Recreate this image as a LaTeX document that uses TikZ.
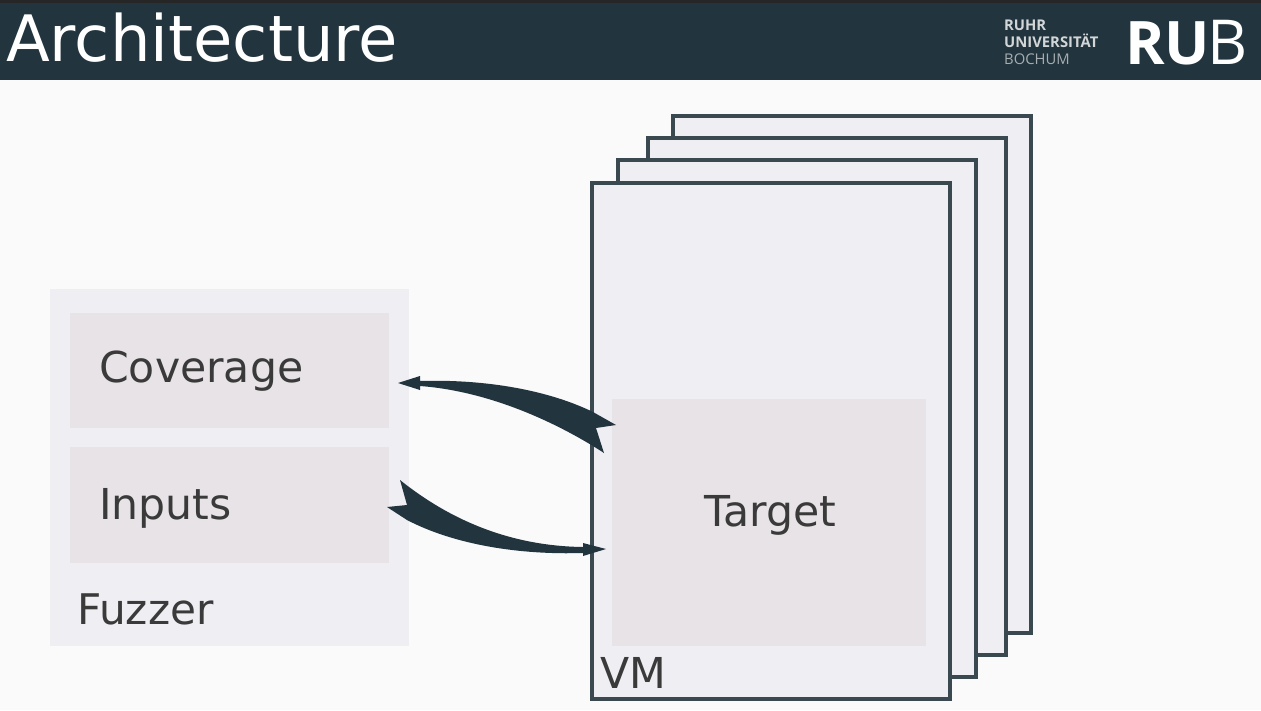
\documentclass[tikz,border=0pt]{standalone}
\usepackage{fontspec}
\setmainfont{DejaVu Sans}
\newfontfamily\logofont{Open Sans}
\definecolor{hdr}{HTML}{22343D}
\definecolor{bgc}{HTML}{FAFAFB}
\definecolor{panel}{HTML}{EEEEF3}
\definecolor{inner}{HTML}{E7E3E6}
\definecolor{edgec}{HTML}{3A494F}
\definecolor{txt}{HTML}{3A3A3A}
\tikzset{
  x=1pt,y=-1pt,
  vmbox/.style={draw=edgec,line width=3.2pt,fill=panel},
  flat/.style={fill=#1,draw=none},
  lbl/.style={text=txt,font=\fontsize{42.6}{50}\selectfont,inner sep=0pt,anchor=base west},
  flow/.style={fill=hdr,draw=none},
  logosm/.style={text=white!80!hdr,inner sep=0pt,anchor=base west,font=\logofont\bfseries\fontsize{14.8}{16}\selectfont},
}
\begin{document}
\begin{tikzpicture}
\useasboundingbox (0,0) rectangle (1261,710);
\fill[bgc] (0,0) rectangle (1261,710);
\fill[hdr] (0,3) rectangle (1261,80);
\fill[black!85] (0,0) rectangle (1261,3);
\node[text=white,inner sep=0pt,anchor=base west,font=\fontsize{64}{70}\selectfont] (title) at (6,61) {Architecture};
\node[logosm] (l1) at (1004,30) {RUHR};
\node[logosm] (l2) at (1004,47) {UNIVERSITÄT};
\node[logosm,text=white!60!hdr,font=\logofont\fontsize{14.8}{16}\selectfont] (l3) at (1004,64) {BOCHUM};
\node[text=white,inner sep=0pt,anchor=base west,font=\logofont\bfseries\fontsize{60}{70}\selectfont] (ru) at (1125,64) {RU};
\node[text=white,inner sep=0pt,anchor=base west,font=\logofont\fontsize{62}{70}\selectfont] (b) at (1207,64) {B};
% fuzzer
\path[flat=panel] (50,289) rectangle (409,646);
\path[flat=inner] (70,313) rectangle (389,428);
\path[flat=inner] (70,447) rectangle (389,563);
\node[lbl] (coverage) at (99,382) {Coverage};
\node[lbl] (inputs) at (99,519) {Inputs};
\node[lbl,font=\fontsize{42.2}{50}\selectfont] (fuzzer) at (77,624) {Fuzzer};
% VM stack
\draw[vmbox] (673,116) rectangle (1031,633);
\draw[vmbox] (648,138) rectangle (1006,655);
\draw[vmbox] (618,160) rectangle (976,677);
\draw[vmbox] (592,183) rectangle (950,699);
\path[flat=inner] (612,399) rectangle (926,646);
\node[lbl] (target) at (704,526) {Target};
\node[lbl] (vm) at (600,688) {VM};
% arrows
\coordinate (covtip) at (398,383);
\coordinate (inptip) at (606,549);
\path[flow] (covtip) -- (420,376) -- (420,381)
  .. controls (485,379) and (548,390) .. (593,412)
  -- (616,425) -- (596,428) -- (604,453)
  .. controls (572,432) and (500,392) .. (420,386)
  -- (420,390) -- cycle;
\path[flow] (inptip) -- (583,556) -- (583,553)
  .. controls (520,555) and (455,545) .. (407,520)
  -- (387,507) -- (407,505) -- (400,480)
  .. controls (450,520) and (510,546) .. (583,547)
  -- (583,543) -- cycle;
\end{tikzpicture}
\end{document}
